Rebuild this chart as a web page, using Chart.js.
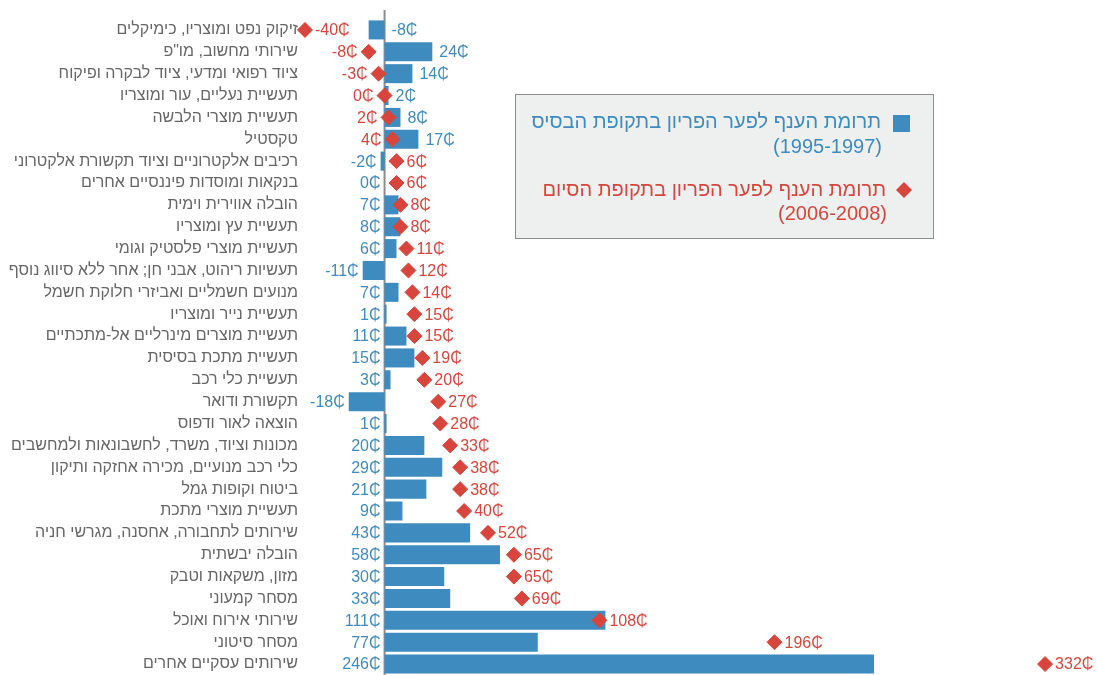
<!DOCTYPE html>
<html lang="he">
<head>
  <meta charset="UTF-8" />
  <title>תרומת הענפים לפער הפריון</title>
  <script src="https://cdn.jsdelivr.net/npm/chart.js"></script>
  <style>
    html,body { margin:0; padding:0; background:#fff; }
    .wrap     { position:relative; width:1097px; height:675px; }
  </style>
</head>
<body>
<div class="wrap"><canvas id="gapChart"></canvas></div>

<script>
  /* ---------- data ---------- */
  const categories = [
    'זיקוק נפט ומוצריו, כימיקלים',
    'שירותי מחשוב, מו"פ',
    'ציוד רפואי ומדעי, ציוד לבקרה ופיקוח',
    'תעשיית נעליים, עור ומוצריו',
    'תעשיית מוצרי הלבשה',
    'טקסטיל',
    'רכיבים אלקטרוניים וציוד תקשורת אלקטרוני',
    'בנקאות ומוסדות פיננסיים אחרים',
    'הובלה אווירית וימית',
    'תעשיית עץ ומוצריו',
    'תעשיית מוצרי פלסטיק וגומי',
    'תעשיות ריהוט, אבני חן; אחר ללא סיווג נוסף',
    'מנועים חשמליים ואביזרי חלוקת חשמל',
    'תעשיית נייר ומוצריו',
    'תעשיית מוצרים מינרליים אל-מתכתיים',
    'תעשיית מתכת בסיסית',
    'תעשיית כלי רכב',
    'תקשורת ודואר',
    'הוצאה לאור ודפוס',
    'מכונות וציוד, משרד, לחשבונאות ולמחשבים',
    'כלי רכב מנועיים, מכירה אחזקה ותיקון',
    'ביטוח וקופות גמל',
    'תעשיית מוצרי מתכת',
    'שירותים לתחבורה, אחסנה, מגרשי חניה',
    'הובלה יבשתית',
    'מזון, משקאות וטבק',
    'מסחר קמעוני',
    'שירותי אירוח ואוכל',
    'מסחר סיטוני',
    'שירותים עסקיים אחרים'
  ];
  const baseValues = [-8, 24, 14, 2, 8, 17, -2, 0, 7, 8, 6, -11, 7, 1, 11, 15, 3, -18, 1, 20, 29, 21, 9, 43, 58, 30, 33, 111, 77, 246];
  const endValues  = [-40, -8, -3, 0, 2, 4, 6, 6, 8, 8, 11, 12, 14, 15, 15, 19, 20, 27, 28, 33, 38, 38, 40, 52, 65, 65, 69, 108, 196, 332];
  const seriesNames = [
    ['תרומת הענף לפער הפריון בתקופת הבסיס', '(1995-1997)'],
    ['תרומת הענף לפער הפריון בתקופת הסיום', '(2006-2008)']
  ];
  const unit = '₵';

  const BLUE = '#3d8bbf', RED = '#d8453d', GREY = '#666';
  const FONT = '"Liberation Sans", Arial, sans-serif';

  /* ---------- plugins ---------- */
  const zeroLine = {
    id:'zeroLine',
    beforeDatasetsDraw(chart){
      const {ctx, chartArea:a} = chart;
      const x0 = chart.scales.x.getPixelForValue(0);
      ctx.save();
      ctx.strokeStyle = '#8c8c8c'; ctx.lineWidth = 2;
      ctx.beginPath(); ctx.moveTo(x0, a.top - 9); ctx.lineTo(x0, a.bottom); ctx.stroke();
      ctx.restore();
    }
  };

  const valueLabels = {
    id:'valueLabels',
    afterDatasetsDraw(chart){
      const {ctx} = chart, x = chart.scales.x;
      const bars = chart.getDatasetMeta(1).data;
      const dots = chart.getDatasetMeta(0).data;
      ctx.save();
      ctx.font = '16px ' + FONT;
      ctx.textBaseline = 'middle';
      bars.forEach((bar, i) => {
        const b = baseValues[i], e = endValues[i];
        const swap = e < 5;                       // top rows: blue text right, red text left
        ctx.fillStyle = BLUE;
        if (swap) { ctx.textAlign = 'left';  ctx.fillText(b + unit, x.getPixelForValue(Math.max(b,0)) + 7, bar.y + 1); }
        else      { ctx.textAlign = 'right'; ctx.fillText(b + unit, x.getPixelForValue(Math.min(b,0)) - 4, bar.y + 1); }
        const d = dots[i];
        ctx.fillStyle = RED;
        if (swap && e > -20) { ctx.textAlign = 'right'; ctx.fillText(e + unit, d.x - 11, d.y + 1); }
        else                 { ctx.textAlign = 'left';  ctx.fillText(e + unit, d.x + 10, d.y + 1); }
      });
      ctx.restore();
    }
  };

  const boxLegend = {
    id:'boxLegend',
    afterDraw(chart){
      const ctx = chart.ctx;
      ctx.save();
      ctx.fillStyle = '#eef0f0'; ctx.strokeStyle = '#8c8c8c'; ctx.lineWidth = 1;
      ctx.fillRect(515.5, 94.5, 418, 144);
      ctx.strokeRect(515.5, 94.5, 418, 144);

      ctx.font = '20px ' + FONT;
      ctx.textBaseline = 'middle';
      ctx.direction = 'rtl';
      ctx.textAlign = 'right';

      ctx.fillStyle = BLUE;
      ctx.fillRect(893, 115, 17, 17);
      ctx.fillText(seriesNames[0][0], 881, 122);
      ctx.fillText(seriesNames[0][1], 882, 147);

      ctx.fillStyle = RED;
      ctx.beginPath();
      ctx.moveTo(904, 182); ctx.lineTo(912, 190); ctx.lineTo(904, 198); ctx.lineTo(896, 190);
      ctx.closePath(); ctx.fill();
      ctx.fillText(seriesNames[1][0], 886, 190);
      ctx.fillText(seriesNames[1][1], 887, 214);
      ctx.restore();
    }
  };

  /* ---------- chart ---------- */
  new Chart(document.getElementById('gapChart'), {
    data:{
      labels: categories,
      datasets:[
        { type:'line', label:seriesNames[1].join(' '), data:endValues, order:0, clip:false,
          showLine:false, pointStyle:'rectRot', pointRadius:7.5, pointHoverRadius:7.5,
          backgroundColor:RED, borderColor:RED, borderWidth:1 },
        { type:'bar', label:seriesNames[0].join(' '), data:baseValues, order:1,
          backgroundColor:BLUE, barPercentage:0.87, categoryPercentage:1 }
      ]
    },
    options:{
      indexAxis:'y',
      responsive:true, maintainAspectRatio:false, animation:false,
      layout:{ autoPadding:false, padding:{ top:19, right:36, bottom:0, left:0 } },
      scales:{
        x:{ display:false, min:-42, max:340 },
        y:{ grid:{display:false, drawTicks:false}, border:{display:false},
            ticks:{ color:GREY, font:{size:16, family:FONT}, padding:3, autoSkip:false },
            afterFit(s){ s.width = 301; s.paddingTop = 0; s.paddingBottom = 0; } }
      },
      plugins:{ legend:{display:false}, tooltip:{enabled:false} }
    },
    plugins:[zeroLine, valueLabels, boxLegend]
  });
</script>
</body>
</html>
